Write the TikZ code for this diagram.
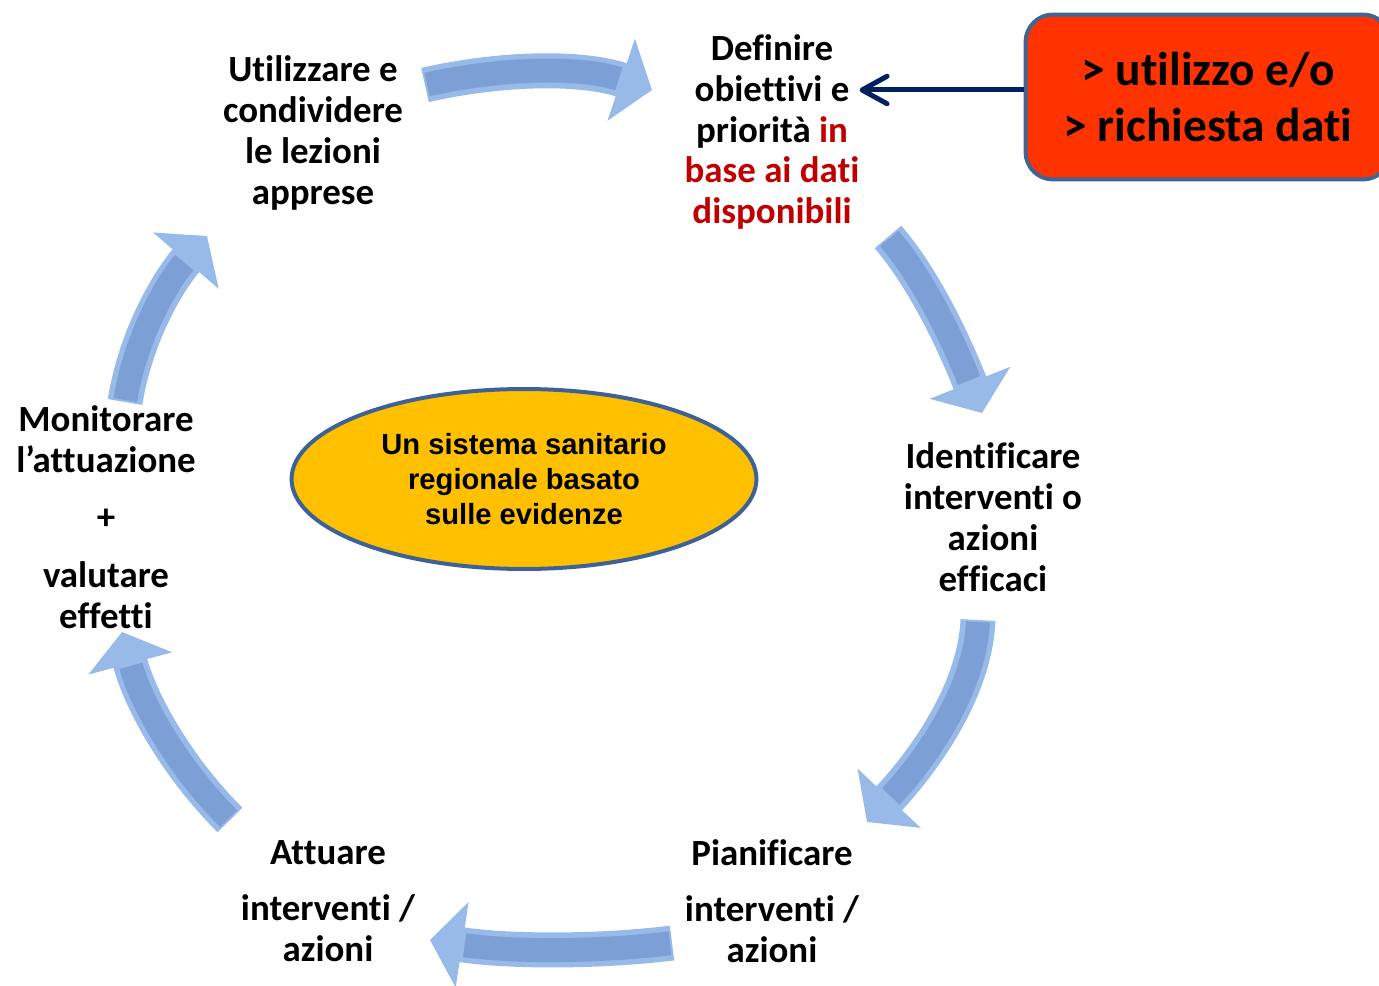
\documentclass[tikz,border=0pt]{standalone}
\usepackage{fontspec}
\setmainfont{Carlito}[RawFeature={-liga;-clig;-calt;-dlig}]
\newfontfamily\hubfont{Liberation Sans}
\usetikzlibrary{arrows.meta,shapes.geometric}
\definecolor{CycleLight}{RGB}{152,186,233}
\definecolor{CycleCore}{RGB}{124,160,214}
\definecolor{HubYellow}{RGB}{255,192,0}
\definecolor{HubBorder}{RGB}{62,98,152}
\definecolor{DataOrange}{RGB}{255,51,0}
\definecolor{DataBorder}{RGB}{66,100,148}
\definecolor{DataNavy}{RGB}{0,32,96}
\definecolor{DataRed}{RGB}{192,0,0}

% one curved block arrow of the cycle: start, two controls, tip
\newcommand{\cyclearrow}[4]{%
  \draw[cycleArrow] #1 .. controls #2 and #3 .. #4;
  \draw[cycleBand] #1 .. controls #2 and #3 .. #4;}

\begin{document}
\begin{tikzpicture}[
      x=0.02cm,y=-0.02cm,
      stepLabel/.style={font=\bfseries\fontsize{21}{23.3}\selectfont,
                        align=center,inner sep=0pt},
      hubEllipse/.style={ellipse,draw=HubBorder,fill=HubYellow,line width=0.08cm,
                         minimum width=9.3cm,minimum height=3.6cm,align=center,
                         font=\hubfont\bfseries\fontsize{16.6}{19.8}\selectfont},
      dataBox/.style={draw=DataBorder,fill=DataOrange,rounded corners=0.55cm,
                      line width=0.08cm,minimum width=7.3cm,minimum height=3.3cm,
                      align=center,font=\bfseries\fontsize{27}{32.3}\selectfont},
      cycleArrow/.style={draw=CycleLight,line width=0.7cm,
                         -{Triangle[length=0.65cm,width=1.7cm]}},
      cycleBand/.style={draw=CycleCore,line width=0.48cm,
                        shorten >=0.7cm,shorten <=0.04cm},
      dataArrow/.style={draw=DataNavy,line width=0.1cm,
                        -{Straight Barb[length=0.5cm,width=0.55cm,round]}}
    ]
    \useasboundingbox (0,0) rectangle (1379,986);

    % Central hub
    \node(hub)[hubEllipse] at (524,479)
      {Un sistema sanitario\\regionale basato\\sulle evidenze};

    % Steps of the cycle
    \node(defin)[stepLabel] at (772,132) {%
      Definire\\obiettivi e\\priorità \textcolor{DataRed}{in}\\
      \textcolor{DataRed}{base ai dati}\\\textcolor{DataRed}{disponibili}};
    \node(ident)[stepLabel] at (993,517)
      {Identificare\\interventi o\\azioni\\efficaci};
    \node(piani)[stepLabel] at (772,901)
      {Pianificare\\[8.5pt]interventi /\\azioni};
    \node(attua)[stepLabel] at (328,901)
      {Attuare\\[8.5pt]interventi /\\azioni};
    \node(monit)[stepLabel] at (106,517)
      {Monitorare\\l’attuazione\\[9.5pt]+\\[9.5pt]valutare\\effetti};
    \node(utili)[stepLabel] at (313,133)
      {Utilizzare e\\condividere\\le lezioni\\apprese};

    % Curved block arrows between the steps
    \cyclearrow{(425,85)}{(500,68)}{(580,66)}{(652,90)}
    \cyclearrow{(888,237)}{(925,280)}{(955,345)}{(982,413)}
    \cyclearrow{(978,620)}{(975,690)}{(925,760)}{(867,822)}
    \cyclearrow{(672,943)}{(600,952)}{(510,952)}{(430,940)}
    \cyclearrow{(230,820)}{(175,765)}{(140,700)}{(122,632)}
    \cyclearrow{(125,402)}{(135,340)}{(165,285)}{(207,236)}

    % Data demand box feeding the objectives
    \node(data)[dataBox] at (1208,97) {> utilizzo e/o\\> richiesta dati};
    \draw[dataArrow] ([yshift=0.14cm]data.west) -- ++(-3.28cm,0);
  \end{tikzpicture}
\end{document}
